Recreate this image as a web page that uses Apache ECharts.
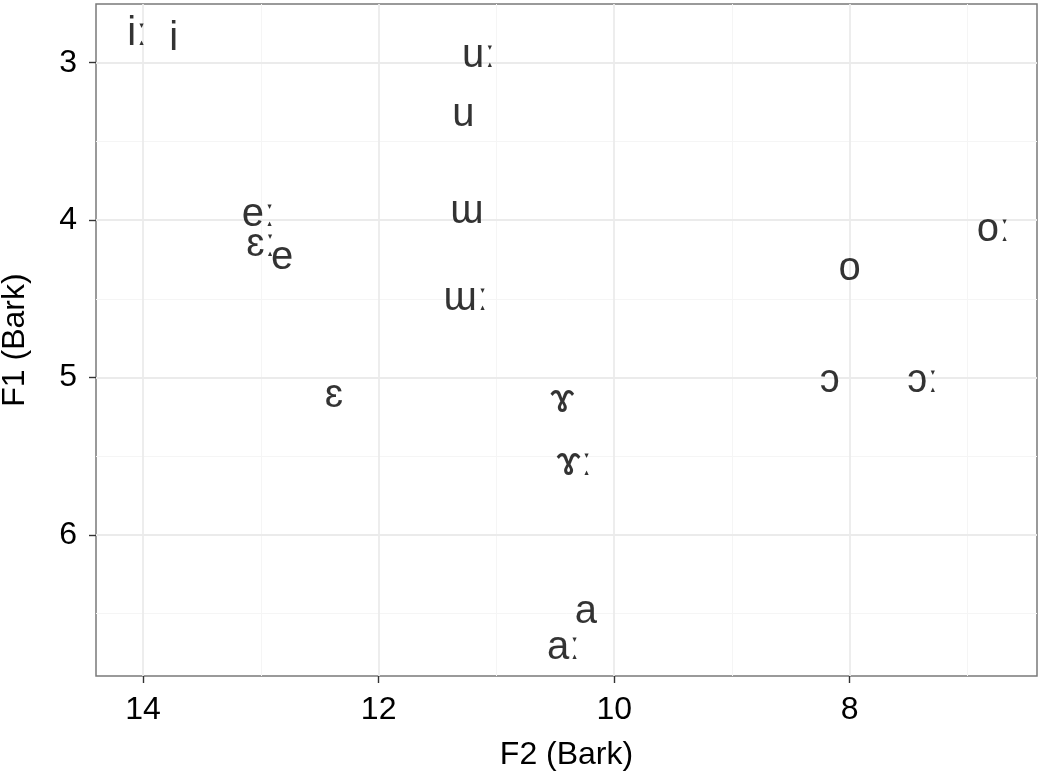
<!DOCTYPE html>
<html>
<head>
<meta charset="utf-8">
<script src="https://cdn.jsdelivr.net/npm/echarts@6/dist/echarts.min.js"></script>
<style>
  html, body { margin: 0; padding: 0; background: #fff; }
  #chart { width: 1042px; height: 781px; }
</style>
</head>
<body>
<div id="chart"></div>
<script>
// vowel means, F2 / F1 in Bark
var vowels = ['iː', 'i', 'uː', 'u', 'ɯ', 'ɯː', 'eː', 'ɛː', 'e', 'ɛ', 'ɤ', 'ɤː', 'a', 'aː', 'o', 'oː', 'ɔ', 'ɔː'];
var f2 = [14.05, 13.74, 11.15, 11.28, 11.25, 11.26, 13.02, 13.00, 12.82, 12.38, 10.44, 10.34, 10.24, 10.43, 8.00, 6.78, 8.17, 7.38];
var f1 = [2.82, 2.85, 2.96, 3.33, 3.95, 4.50, 3.97, 4.16, 4.24, 5.12, 5.15, 5.55, 6.49, 6.72, 4.31, 4.06, 5.02, 5.02];

// axis ticks
var xTicks = [8, 10, 12, 14];
var xMinor = [7, 9, 11, 13];
var yTicks = [3, 4, 5, 6];
var yMinor = [3.5, 4.5, 5.5, 6.5];

(function() {
  var font = "'Liberation Sans', 'DejaVu Sans', sans-serif";
  var major = { color: '#ebebeb', width: 1.8, type: 'solid' };
  var minor = { color: '#f5f5f5', width: 1, type: 'solid' };

  var gridLines = [];
  xMinor.forEach(function(v) { gridLines.push({ xAxis: v, lineStyle: minor }); });
  yMinor.forEach(function(v) { gridLines.push({ yAxis: v, lineStyle: minor }); });
  xTicks.forEach(function(v) { gridLines.push({ xAxis: v, lineStyle: major }); });
  yTicks.forEach(function(v) { gridLines.push({ yAxis: v, lineStyle: major }); });

  var points = vowels.map(function(v, i) { return [f2[i], f1[i], v]; });

  var chart = echarts.init(document.getElementById('chart'), null, { renderer: 'canvas' });
  chart.setOption({
    backgroundColor: '#fff',
    animation: false,
    grid: {
      left: 96, right: 5, top: 4, bottom: 105,
      outerBoundsMode: 'none',
      containLabel: false,
      show: true,
      backgroundColor: '#fff',
      borderColor: '#7a7a7a',
      borderWidth: 1.5
    },
    xAxis: {
      type: 'value',
      inverse: true,
      min: 6.41,
      max: 14.40,
      name: 'F2 (Bark)',
      nameLocation: 'middle',
      nameGap: 63,
      nameTextStyle: { color: '#000', fontSize: 32, fontFamily: font },
      axisLine: { show: false },
      axisTick: { show: true, customValues: xTicks, length: 7, lineStyle: { color: '#333', width: 1.4 } },
      axisLabel: { customValues: xTicks, margin: 18, color: '#000', fontSize: 32, fontFamily: font },
      splitLine: { show: false }
    },
    yAxis: {
      type: 'value',
      inverse: true,
      min: 2.627,
      max: 6.897,
      name: 'F1 (Bark)',
      nameLocation: 'middle',
      nameGap: 65,
      nameTextStyle: { color: '#000', fontSize: 32, fontFamily: font },
      axisLine: { show: false },
      axisTick: { show: true, customValues: yTicks, length: 7, lineStyle: { color: '#333', width: 1.4 } },
      axisLabel: { customValues: yTicks, margin: 19, color: '#000', fontSize: 32, fontFamily: font },
      splitLine: { show: false }
    },
    series: [
      {
        type: 'scatter',
        data: [],
        silent: true,
        z: 1,
        markLine: {
          silent: true,
          symbol: 'none',
          label: { show: false },
          data: gridLines
        }
      },
      {
        type: 'scatter',
        data: points,
        symbolSize: 0,
        z: 10,
        silent: true,
        label: {
          show: true,
          position: 'inside',
          color: '#000',
          fontSize: 40,
          fontFamily: font,
          formatter: function(p) { return p.data[2]; }
        }
      }
    ]
  });

  window.addEventListener('resize', function() { chart.resize(); });
})();
</script>
</body>
</html>
